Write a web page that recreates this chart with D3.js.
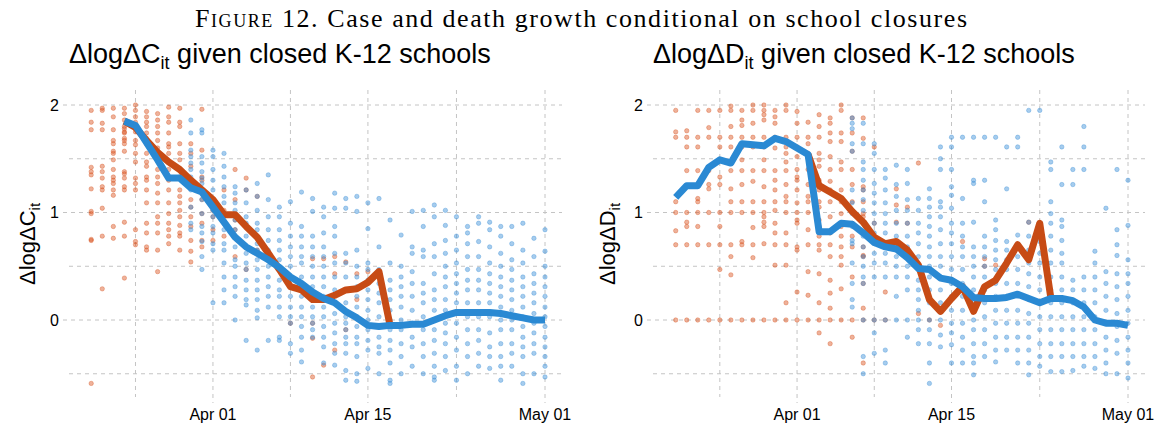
<!DOCTYPE html>
<html>
<head>
<meta charset="utf-8">
<script src="https://cdn.jsdelivr.net/npm/d3@7"></script>
<style>
  body { margin: 0; background: #fff; }
  svg { display: block; }
</style>
</head>
<body>
<svg id="chart" width="1163" height="432"></svg>
<script>

// ---- data (dates are 2020, "MM-DD") ----

// daily averages, cases panel
const caseBlueDays = ["03-24","03-25","03-26","03-27","03-28","03-29","03-30","03-31",
  "04-01","04-02","04-03","04-04","04-05","04-06","04-07","04-08","04-09","04-10",
  "04-11","04-12","04-13","04-14","04-15","04-16","04-17","04-18","04-19","04-20",
  "04-21","04-22","04-23","04-24","04-25","04-26","04-27","04-28","04-29","04-30","05-01"]
const caseBlueLine = [1.85,1.81,1.65,1.49,1.32,1.32,1.23,1.19,
  1.05,0.91,0.77,0.68,0.62,0.56,0.49,0.40,0.34,0.26,
  0.20,0.16,0.08,0.02,-0.05,-0.06,-0.05,-0.05,-0.04,-0.04,
  0.00,0.04,0.07,0.07,0.07,0.07,0.06,0.04,0.02,0.00,0.00]

const caseOrangeDays = ["03-24","03-25","03-26","03-27","03-28","03-29","03-30","03-31",
  "04-01","04-02","04-03","04-04","04-05","04-06","04-07","04-08","04-09","04-10",
  "04-11","04-12","04-13","04-14","04-15","04-16","04-17"]
const caseOrangeLine = [1.85,1.79,1.67,1.56,1.47,1.40,1.30,1.21,
  1.12,0.98,0.98,0.87,0.77,0.62,0.47,0.31,0.28,0.19,
  0.19,0.23,0.28,0.29,0.35,0.45,-0.05]

// daily averages, deaths panel
const deathBlueDays = ["03-21","03-22","03-23","03-24","03-25","03-26","03-27","03-28","03-29","03-30","03-31",
  "04-01","04-02","04-03","04-04","04-05","04-06","04-07","04-08","04-09","04-10",
  "04-11","04-12","04-13","04-14","04-15","04-16","04-17","04-18","04-19","04-20",
  "04-21","04-22","04-23","04-24","04-25","04-26","04-27","04-28","04-29","04-30","05-01"]
const deathBlueLine = [1.14,1.25,1.25,1.42,1.49,1.46,1.64,1.63,1.62,1.69,1.66,
  1.60,1.54,0.82,0.82,0.90,0.89,0.81,0.72,0.68,0.66,
  0.58,0.48,0.47,0.39,0.37,0.31,0.21,0.20,0.20,0.21,
  0.24,0.20,0.16,0.20,0.20,0.18,0.12,0.00,-0.03,-0.03,-0.05]

const deathOrangeDays = ["04-02","04-03","04-04","04-05","04-06","04-07","04-08","04-09","04-10",
  "04-11","04-12","04-13","04-14","04-15","04-16","04-17","04-18","04-19","04-20",
  "04-21","04-22","04-23","04-24"]
const deathOrangeLine = [1.54,1.25,1.19,1.13,1.01,0.91,0.77,0.71,0.73,
  0.65,0.51,0.19,0.08,0.20,0.31,0.08,0.31,0.37,0.53,
  0.70,0.56,0.90,0.21]

// individual state observations, cases panel
const caseDotsOrange = [
  ["03-21",[1.95,1.84,1.77,1.42,1.38,1.35,1.22,1.01,0.99,0.75,0.74,-0.59]],
  ["03-22",[1.97,1.95,1.83,1.77,1.43,1.38,1.32,1.24,1.21,1.04,0.78,0.29]],
  ["03-23",[1.97,1.89,1.77,1.67,1.64,1.57,1.55,1.49,1.40,1.33,1.30,1.27,1.21,1.16,0.87,0.76]],
  ["03-24",[1.97,1.92,1.86,1.80,1.78,1.75,1.74,1.69,1.67,1.64,1.57,1.38,1.36,1.32,1.24,1.21,0.91,0.78,0.39]],
  ["03-25",[2.00,1.95,1.89,1.84,1.78,1.75,1.67,1.63,1.55,1.47,1.32,1.27,1.21,0.84,0.73,0.70]],
  ["03-26",[1.94,1.89,1.84,1.80,1.74,1.69,1.64,1.55,1.47,1.43,1.33,1.30,1.21,1.09,0.90,0.81,0.68,0.65]],
  ["03-27",[1.92,1.86,1.80,1.74,1.67,1.60,1.52,1.40,1.33,1.27,1.18,1.09,0.96,0.90,0.81,0.65,0.45]],
  ["03-28",[1.98,1.89,1.84,1.74,1.64,1.61,1.55,1.47,1.40,1.30,1.21,1.09,0.99,0.90,0.84,0.78,0.71]],
  ["03-29",[1.97,1.84,1.80,1.64,1.55,1.49,1.40,1.33,1.21,1.15,1.09,1.02,0.96,0.88,0.81,0.78,0.65]],
  ["03-30",[1.64,1.55,1.43,1.30,1.12,1.05,0.96,0.87,0.74,0.64,0.54]],
  ["03-31",[1.96,1.58,1.33,1.30,1.21,1.12,0.99,0.90,0.74,0.68]],
  ["04-01",[1.12,1.09,1.02,0.96,0.84,0.74]],
  ["04-02",[1.21,1.02,0.78]],
  ["04-03",[1.40,1.12,0.93,0.84,0.59]],
  ["04-04",[1.32,1.21,0.47]],
  ["04-05",[1.15,0.65]],
  ["04-08",[-0.03]],
  ["04-09",[0.28]],
  ["04-10",[0.57,-0.03,-0.17,-0.53]],
  ["04-11",[0.57,0.20,-0.42]],
  ["04-12",[0.59,0.43,-0.28]],
  ["04-13",[0.54,-0.09]],
  ["04-14",[0.43,0.19]],
  ["04-15",[0.45]]
]

const caseDotsBlue = [
  ["03-30",[1.86,1.74,1.58,1.52,1.46,1.40,1.33,1.21,1.05,0.90,0.84]],
  ["03-31",[1.77,1.74,1.52,1.46,1.38,1.32,1.27,1.21,1.12,0.99,0.87,0.81,0.73,0.59,0.47]],
  ["04-01",[1.58,1.52,1.40,1.30,1.21,1.12,1.02,0.96,0.87,0.81,0.71,0.65,0.16]],
  ["04-02",[1.55,1.43,1.33,1.24,1.15,1.09,0.99,0.90,0.84,0.71,0.65,0.53,0.40,0.28,0.16]],
  ["04-03",[1.24,1.18,1.09,1.02,0.93,0.84,0.78,0.68,0.56,0.50,0.40,0.31,0.22,0.00]],
  ["04-04",[1.21,1.09,0.96,0.90,0.78,0.68,0.62,0.53,0.47,0.37,0.28,0.19,0.14,-0.19]],
  ["04-05",[1.27,1.15,1.02,0.90,0.84,0.71,0.65,0.56,0.47,0.37,0.28,0.19,0.09,0.02,-0.28]],
  ["04-06",[1.35,1.12,0.96,0.84,0.74,0.65,0.59,0.50,0.40,0.31,0.22,0.12,-0.19]],
  ["04-07",[1.05,0.96,0.84,0.74,0.65,0.56,0.47,0.37,0.28,0.22,0.12,0.03,-0.16,-0.19]],
  ["04-08",[1.10,0.90,0.78,0.68,0.59,0.50,0.40,0.31,0.22,0.12,0.03,-0.03,-0.22,-0.31]],
  ["04-09",[1.19,0.87,0.78,0.68,0.59,0.53,0.40,0.31,0.22,0.12,0.03,-0.06,-0.16,-0.28,-0.39]],
  ["04-10",[1.13,1.01,0.78,0.68,0.59,0.50,0.40,0.31,0.22,0.12,0.03,-0.03,-0.09,-0.16]],
  ["04-11",[1.05,0.96,0.81,0.68,0.59,0.50,0.40,0.31,0.22,0.12,0.03,-0.06,-0.16,-0.25,-0.40]],
  ["04-12",[1.18,1.04,0.87,0.78,0.62,0.53,0.40,0.28,0.16,0.06,-0.03,-0.12,-0.22,-0.31,-0.42]],
  ["04-13",[1.13,1.04,0.62,0.53,0.40,0.28,0.16,0.03,-0.03,-0.09,-0.16,-0.22,-0.31,-0.47,-0.56]],
  ["04-14",[1.15,1.01,0.65,0.50,0.40,0.31,0.22,0.12,0.03,-0.06,-0.16,-0.22,-0.34,-0.50,-0.57]],
  ["04-15",[1.09,0.85,0.53,0.47,0.37,0.28,0.19,0.09,0.00,-0.09,-0.19,-0.28,-0.45]],
  ["04-16",[1.13,0.68,0.47,0.34,0.25,0.16,0.03,-0.06,-0.16,-0.25,-0.31,-0.50]],
  ["04-17",[0.93,0.53,0.37,0.28,0.19,0.09,0.00,-0.09,-0.19,-0.28,-0.40,-0.56,-0.59]],
  ["04-18",[0.79,0.50,0.40,0.31,0.22,0.12,0.00,-0.09,-0.22,-0.34,-0.50]],
  ["04-19",[1.01,0.68,0.62,0.45,0.34,0.22,0.09,-0.03,-0.16,-0.25,-0.43]],
  ["04-20",[1.02,0.87,0.65,0.59,0.34,0.25,0.16,0.03,-0.09,-0.22,-0.34,-0.50]],
  ["04-21",[1.07,0.96,0.71,0.59,0.43,0.28,0.19,0.09,0.00,-0.09,-0.19,-0.31,-0.43,-0.53,-0.56]],
  ["04-22",[1.02,0.88,0.74,0.62,0.50,0.40,0.31,0.19,0.09,-0.03,-0.12,-0.22,-0.34,-0.47]],
  ["04-23",[0.96,0.78,0.65,0.53,0.43,0.34,0.25,0.16,0.06,-0.03,-0.16,-0.28,-0.43,-0.56]],
  ["04-24",[0.87,0.81,0.71,0.59,0.47,0.37,0.28,0.16,0.03,-0.09,-0.22,-0.34,-0.50]],
  ["04-25",[0.96,0.90,0.73,0.59,0.47,0.37,0.28,0.16,0.03,-0.09,-0.19,-0.31,-0.43]],
  ["04-26",[0.91,0.84,0.68,0.53,0.43,0.34,0.25,0.16,0.03,-0.12,-0.25,-0.34,-0.45]],
  ["04-27",[0.87,0.78,0.62,0.50,0.40,0.31,0.22,0.12,0.00,-0.09,-0.22,-0.34,-0.43,-0.56]],
  ["04-28",[0.87,0.71,0.56,0.47,0.37,0.28,0.19,0.09,0.00,-0.09,-0.22,-0.31,-0.43]],
  ["04-29",[0.90,0.65,0.53,0.40,0.31,0.22,0.12,0.03,-0.06,-0.16,-0.25,-0.34,-0.50,-0.59]],
  ["04-30",[0.76,0.59,0.43,0.34,0.25,0.16,0.06,-0.03,-0.12,-0.22,-0.31,-0.50]],
  ["05-01",[0.84,0.64,0.50,0.40,0.31,0.22,0.12,0.03,-0.06,-0.16,-0.25,-0.34,-0.43,-0.53]]
]

// individual state observations, deaths panel
const deathDotsOrange = [
  ["03-21",[1.95,1.75,1.70,1.10,1.00,0.83,0.70,0]],
  ["03-22",[1.76,1.70,1.61,1.39,1.00,0.91,0.87,0.70,0]],
  ["03-23",[1.95,1.70,1.61,1.39,1.13,1.10,1.00,0.87,0.70,0]],
  ["03-24",[1.95,1.79,1.70,1.39,1.26,1.22,1.00,0.70,0]],
  ["03-25",[1.95,1.70,1.61,1.33,1.26,1.00,0.87,0.70,0.47,0]],
  ["03-26",[1.99,1.95,1.80,1.70,1.61,1.39,1.22,1.10,1.00,0.70,0.59,0.42,0]],
  ["03-27",[1.95,1.86,1.81,1.70,1.61,1.49,1.39,1.26,1.10,1.00,0.73,0.70,0]],
  ["03-28",[2.00,1.95,1.83,1.70,1.61,1.39,1.29,1.10,1.00,0.86,0.70,0.58,0]],
  ["03-29",[2.00,1.95,1.91,1.86,1.70,1.61,1.49,1.39,1.24,1.10,1.00,0.96,0.91,0.87,0.71,0]],
  ["03-30",[1.95,1.89,1.83,1.70,1.60,1.39,1.30,1.21,1.10,1.02,0.90,0.81,0.70,0.51,0]],
  ["03-31",[2.00,1.95,1.70,1.61,1.55,1.47,1.39,1.26,1.15,1.10,1.00,0.81,0.70,0.51,0.16,0]],
  ["04-01",[1.94,1.83,1.70,1.61,1.52,1.40,1.33,1.30,1.21,1.09,1.00,0.93,0.90,0.68,0.65,0.26,0]],
  ["04-02",[1.84,1.70,1.64,1.55,1.52,1.40,1.26,1.15,1.10,1.00,0.84,0.70,0.45,0.23,0]],
  ["04-03",[1.91,1.80,1.70,1.55,1.49,1.43,1.30,1.21,1.10,1.05,0.93,0.87,0.78,0.70,0.65,0.43,0.16,0,-0.12]],
  ["04-04",[1.88,1.83,1.74,1.66,1.52,1.40,1.29,1.21,1.10,0.96,0.81,0.70,0.59,0.37,0.25,0.11,0,-0.22]],
  ["04-05",[2.00,1.95,1.74,1.66,1.47,1.40,1.21,1.10,0.99,0.87,0.78,0.68,0.59,0.51,0.29,0]],
  ["04-06",[1.88,1.74,1.57,1.40,1.26,1.10,1.02,0.90,0.78,0.68,0.40,0,-0.16]],
  ["04-07",[1.88,1.69,1.24,1.21,1.10,0.99,0.96,0.90,0.68,0.60,0.59,0.34,0.11,0,-0.40]],
  ["04-08",[1.61,0.90,0]],
  ["04-09",[0.26,0]],
  ["04-10",[1.22,1.07,0.91]],
  ["04-11",[1.05,0.90]],
  ["04-12",[1.46,0.06]],
  ["04-13",[0.00]],
  ["04-14",[-0.05]],
  ["04-16",[0.73]],
  ["04-18",[0.57,0.50]],
  ["04-19",[0.51]],
  ["04-22",[0.91]]
]

const deathDotsBlue = [
  ["04-06",[1.88,1.83,1.78,1.64,1.57,1.21,1.09,0.99,0.87,0.74,0.71,0.53,0.34,0.19,0.12]],
  ["04-07",[1.83,1.64,1.47,1.40,1.30,1.21,1.12,1.02,0.90,0.78,0.68,0.59,0.50,0.40,0.34,0.00,-0.34,-0.50]],
  ["04-08",[1.64,1.55,1.40,1.27,1.18,1.09,0.99,0.90,0.81,0.71,0.62,0.53,0.40,0.00,-0.12,-0.31]],
  ["04-09",[1.40,1.32,1.21,1.09,0.99,0.90,0.81,0.71,0.62,0.53,0.40,0.00,-0.28,-0.40]],
  ["04-10",[1.44,1.26,1.15,1.02,0.90,0.78,0.68,0.59,0.50,0.40,0.22,0.00]],
  ["04-11",[1.40,1.27,1.12,1.02,0.90,0.78,0.68,0.59,0.50,0.40,0.28,0.00,-0.16]],
  ["04-12",[1.13,1.02,0.90,0.81,0.71,0.59,0.50,0.37,0.28,0.19,0.09,0.00,-0.09,-0.22]],
  ["04-13",[1.22,1.13,1.05,0.96,0.87,0.78,0.68,0.59,0.50,0.40,0.28,0.16,0.00,-0.09,-0.22,-0.40,-0.59]],
  ["04-14",[1.61,1.50,1.40,1.10,1.05,0.96,0.84,0.71,0.59,0.50,0.40,0.28,0.16,0.00,-0.14,-0.25]],
  ["04-15",[1.70,1.61,1.40,1.24,1.16,1.04,0.90,0.81,0.71,0.59,0.47,0.34,0.22,0.09,-0.03,-0.12,-0.23,-0.40]],
  ["04-16",[1.70,1.13,0.90,0.78,0.68,0.59,0.47,0.34,0.22,0.09,-0.03,-0.16,-0.28,-0.40]],
  ["04-17",[1.70,1.30,1.27,0.91,0.68,0.59,0.50,0.40,0.28,0.16,0.00,-0.09,-0.22,-0.34,-0.40,-0.51]],
  ["04-18",[1.70,1.30,1.10,0.78,0.68,0.59,0.50,0.40,0.28,0.16,0.03,-0.09,-0.22,-0.34]],
  ["04-19",[1.70,0.93,0.84,0.74,0.65,0.56,0.47,0.34,0.22,0.09,-0.03,-0.16,-0.28,-0.39]],
  ["04-20",[1.61,1.22,0.73,0.65,0.56,0.47,0.34,0.22,0.09,-0.03,-0.16,-0.28]],
  ["04-21",[1.70,1.61,0.79,0.68,0.59,0.47,0.34,0.22,0.09,-0.03,-0.16,-0.28,-0.40]],
  ["04-22",[1.95,0.91,0.78,0.65,0.53,0.43,0.31,0.19,0.06,-0.03,-0.16,-0.28,-0.40,-0.51]],
  ["04-23",[1.95,0.73,0.62,0.53,0.40,0.28,0.16,0.03,-0.09,-0.22,-0.34,-0.43]],
  ["04-24",[1.47,1.40,1.10,0.99,0.90,0.78,0.65,0.53,0.40,0.28,0.16,0.03,-0.09,-0.22,-0.34,-0.48]],
  ["04-25",[1.61,1.26,0.93,0.87,0.74,0.62,0.53,0.40,0.28,0.16,0.03,-0.09,-0.22,-0.34,-0.48]],
  ["04-26",[1.40,1.26,0.37,0.28,0.16,0.03,-0.09,-0.22,-0.34,-0.47]],
  ["04-27",[1.80,1.61,1.40,0.40,0.28,0.16,0.03,-0.09,-0.22,-0.34,-0.43]],
  ["04-28",[0.64,0.53,0.40,0.28,0.16,0.03,-0.09,-0.22,-0.34,-0.45]],
  ["04-29",[1.04,0.45,0.34,0.22,0.09,-0.03,-0.16,-0.28,-0.40,-0.50]],
  ["04-30",[1.40,0.84,0.70,0.60,0.43,0.31,0.19,0.06,-0.06,-0.19,-0.31,-0.50]],
  ["05-01",[1.30,0.88,0.56,0.43,0.34,0.22,0.09,-0.03,-0.16,-0.28,-0.40,-0.54]]
]

const yMajorTicks = [0, 1, 2]
const yMinorTicks = [-0.5, 0.5, 1.5]
const xMajorTicks = ["04-01", "04-15", "05-01"]
const xMinorTicks = ["03-25", "04-08", "04-23"]


// ---- drawing ----

const parseDay = d3.timeParse("%Y-%m-%d")
const day = s => parseDay("2020-" + s)

const ORANGE = "#d9531e"
const BLUE = "#3a8fd8"
const ORANGE_LINE = "#c74b15"
const BLUE_LINE = "#2a89d3"
const GRID = "#c4c4c4"

const svg = d3.select("#chart")

svg.append("text")
    .attr("x", 581).attr("y", 27)
    .attr("text-anchor", "middle")
    .attr("textLength", 772)
    .attr("lengthAdjust", "spacing")
    .style("font-family", "'Liberation Serif', serif")
    .style("font-size", "26px")
    .call(t => {
        t.append("tspan").style("font-variant", "small-caps").text("Figure 12.")
        t.append("tspan").text(" Case and death growth conditional on school closures")
    })


function panel(opts) {

    var x = d3.scaleTime()
        .domain([day("03-21"), day("05-01")])
        .range([opts.left, opts.right])

    var y = d3.scaleLinear()
        .domain([-0.5, 2])
        .range([373.75, 105])

    var g = svg.append("g")

    // title with subscript
    var title = g.append("text")
        .attr("x", opts.titleX).attr("y", 63)
        .style("font-family", "'Liberation Sans', Arial, sans-serif")
        .style("font-size", "27px")
    title.append("tspan").text("Δlog" + "Δ" + opts.letter)
    title.append("tspan").attr("dy", 6).style("font-size", "18px").text("it")
    title.append("tspan").attr("dy", -6).text(" given closed K-12 schools")

    // grid
    const grid = g.append("g")
        .attr("stroke", GRID)
        .attr("stroke-width", 1)
        .attr("stroke-dasharray", "4,4")

    grid.selectAll(".hmaj").data(yMajorTicks).enter().append("line")
        .attr("x1", opts.gridLeft).attr("x2", opts.gridRight)
        .attr("y1", d => y(d)).attr("y2", d => y(d))
    grid.selectAll(".hmin").data(yMinorTicks).enter().append("line")
        .attr("x1", opts.gridLeft + 6).attr("x2", opts.gridRight)
        .attr("y1", d => y(d)).attr("y2", d => y(d))
    grid.selectAll(".vmaj").data(xMajorTicks).enter().append("line")
        .attr("x1", d => x(day(d))).attr("x2", d => x(day(d)))
        .attr("y1", 90).attr("y2", 403)
    grid.selectAll(".vmin").data(xMinorTicks).enter().append("line")
        .attr("x1", d => x(day(d))).attr("x2", d => x(day(d)))
        .attr("y1", 90).attr("y2", 397)

    // tick labels
    g.selectAll(".ylab").data(yMajorTicks).enter().append("text")
        .attr("x", opts.gridLeft - 4)
        .attr("y", d => y(d))
        .attr("dy", "0.36em")
        .attr("text-anchor", "end")
        .style("font-family", "'Liberation Sans', Arial, sans-serif")
        .style("font-size", "16px")
        .text(d => d)

    g.selectAll(".xlab").data(xMajorTicks).enter().append("text")
        .attr("x", d => x(day(d)))
        .attr("y", 420)
        .attr("text-anchor", "middle")
        .style("font-family", "'Liberation Sans', Arial, sans-serif")
        .style("font-size", "16px")
        .text(d => d3.timeFormat("%b %d")(day(d)))

    // y axis title
    var ylab = g.append("text")
        .attr("transform", "translate(" + opts.ylabX + ",244) rotate(-90)")
        .attr("text-anchor", "middle")
        .style("font-family", "'Liberation Sans', Arial, sans-serif")
        .style("font-size", "22px")
    ylab.append("tspan").text("Δlog" + "Δ" + opts.letter)
    ylab.append("tspan").attr("dy", 5).style("font-size", "15px").text("it")

    // dots
    function dots(data, color) {
        var flat = []
        data.forEach(([d, vals]) => vals.forEach(v => flat.push({ date: day(d), value: v })))
        g.append("g").selectAll("circle")
            .data(flat)
            .enter()
            .append("circle")
            .attr("cx", d => x(d.date))
            .attr("cy", d => y(d.value))
            .attr("r", 2.2)
            .attr("fill", color)
            .attr("fill-opacity", 0.45)
            .attr("stroke", color)
            .attr("stroke-opacity", 0.6)
            .attr("stroke-width", 0.6)
    }
    dots(opts.dotsOrange, ORANGE)
    dots(opts.dotsBlue, BLUE)

    // lines
    const line = d3.line()
        .x(d => x(d[0]))
        .y(d => y(d[1]))

    function drawLine(days, vals, color) {
        g.append("path")
            .datum(days.map((d, i) => [day(d), vals[i]]))
            .attr("fill", "none")
            .attr("stroke", color)
            .attr("stroke-width", 7)
            .attr("stroke-linejoin", "round")
            .attr("d", line)
    }
    drawLine(opts.orangeDays, opts.orangeLine, ORANGE_LINE)
    drawLine(opts.blueDays, opts.blueLine, BLUE_LINE)
}


panel({
    letter: "C",
    left: 91.2, right: 545,
    gridLeft: 63, gridRight: 562,
    titleX: 69, ylabX: 35,
    dotsOrange: caseDotsOrange, dotsBlue: caseDotsBlue,
    orangeDays: caseOrangeDays, orangeLine: caseOrangeLine,
    blueDays: caseBlueDays, blueLine: caseBlueLine
})

panel({
    letter: "D",
    left: 675.7, right: 1128,
    gridLeft: 647, gridRight: 1145,
    titleX: 653, ylabX: 615,
    dotsOrange: deathDotsOrange, dotsBlue: deathDotsBlue,
    orangeDays: deathOrangeDays, orangeLine: deathOrangeLine,
    blueDays: deathBlueDays, blueLine: deathBlueLine
})

</script>
</body>
</html>
